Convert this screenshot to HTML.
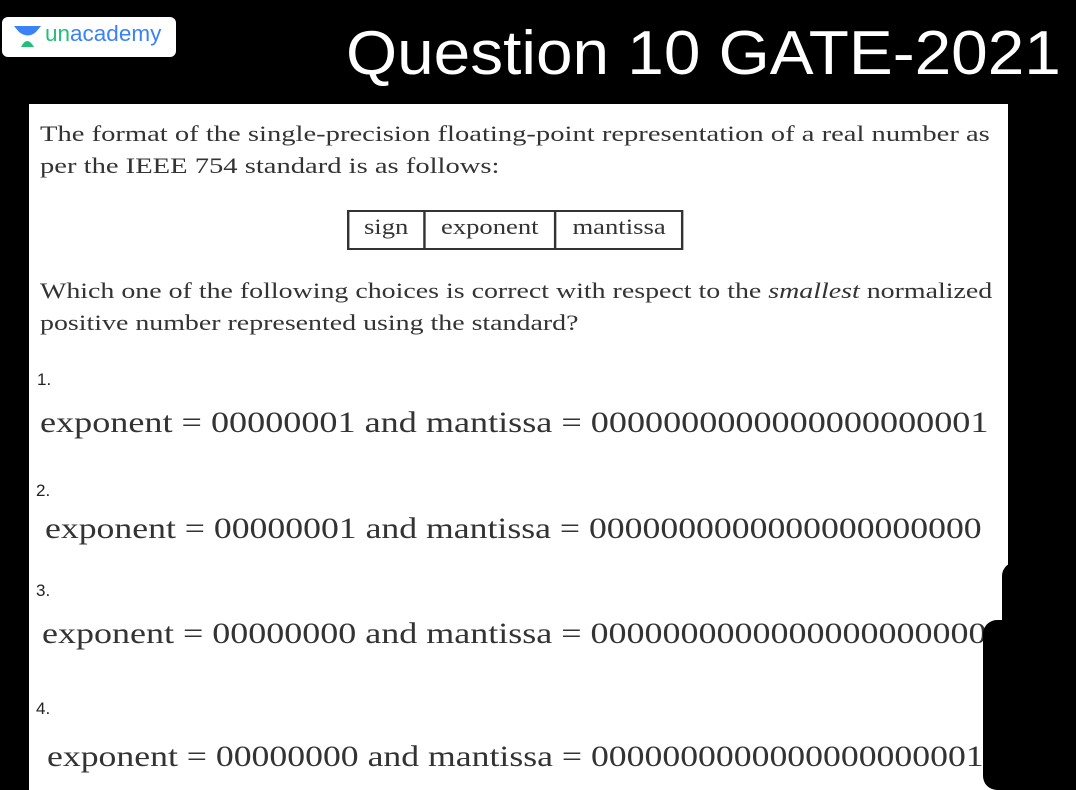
<!DOCTYPE html>
<html><head><style>
html,body{margin:0;width:1076px;height:790px;overflow:hidden;}
body{background:#000;position:relative;font-family:"Liberation Serif",serif;}
.a{position:absolute;white-space:nowrap;transform-origin:0 0;}
.s{font-family:"Liberation Sans",sans-serif;}
</style></head><body>
<div class="a" style="left:2px;top:17px;width:174px;height:40px;background:#fff;border-radius:6px;"></div>
<svg class="a" style="left:14px;top:26px" width="28" height="22"><path d="M0 0H27L22 6Q14 13 5 6Z" fill="#3b82f6"/><path d="M7 21Q13 9 20 21Z" fill="#22c07a"/></svg>
<div class="a s" style="left:45px;top:21px;font-size:22.5px;color:#3b82f6;"><span style="color:#22c07a">un</span>academy</div>
<div class="a s" style="left:346px;top:18px;font-size:62px;color:#fff;transform:scaleX(1.06);">Question 10 GATE-2021</div>
<div class="a" style="left:29px;top:104px;width:979px;height:686px;background:#fff;"></div>
<div class="a" style="left:40px;top:118px;font-size:22.5px;color:#333;line-height:32px;transform:scaleX(1.27);">The format of the single-precision floating-point representation of a real number as<br>per the IEEE 754 standard is as follows:</div>
<div class="a" style="left:347px;top:210px;height:36px;border:2px solid #333;display:flex;font-size:22px;color:#333;transform:scaleX(1.21);">
<div style="padding:2px 12px;border-right:2px solid #333">sign</div><div style="padding:2px 13px;border-right:2px solid #333">exponent</div><div style="padding:2px 13px">mantissa</div></div>
<div class="a" style="left:40px;top:275px;font-size:22.5px;color:#333;line-height:32px;transform:scaleX(1.24);">Which one of the following choices is correct with respect to the <i>smallest</i> normalized<br>positive number represented using the standard?</div>
<div class="a s" style="left:37px;top:370px;font-size:17px;color:#222;">1.</div>
<div class="a" style="left:40px;top:406px;font-size:30px;color:#333;transform:scaleX(1.205);">exponent = 00000001 and mantissa = 0000000000000000000001</div>
<div class="a s" style="left:36px;top:481px;font-size:17px;color:#222;">2.</div>
<div class="a" style="left:45px;top:512px;font-size:30px;color:#333;transform:scaleX(1.19);">exponent = 00000001 and mantissa = 0000000000000000000000</div>
<div class="a s" style="left:36px;top:581px;font-size:17px;color:#222;">3.</div>
<div class="a" style="left:42px;top:617px;font-size:30px;color:#333;transform:scaleX(1.2);">exponent = 00000000 and mantissa = 0000000000000000000000</div>
<div class="a s" style="left:36px;top:699px;font-size:17px;color:#222;">4.</div>
<div class="a" style="left:47px;top:740px;font-size:30px;color:#333;transform:scaleX(1.19);">exponent = 00000000 and mantissa = 0000000000000000000001</div>
<div class="a" style="left:1002px;top:562px;width:80px;height:240px;background:#000;border-radius:14px 0 0 0;"></div>
<div class="a" style="left:983px;top:620px;width:100px;height:170px;background:#000;border-radius:14px 0 0 14px;"></div>
</body></html>
